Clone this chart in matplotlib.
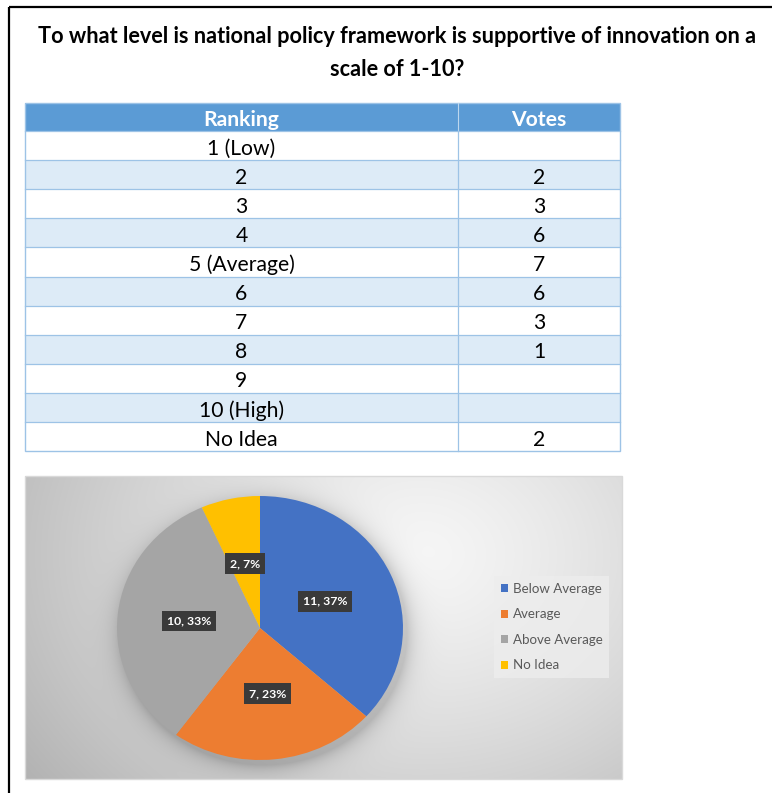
import numpy as np
import matplotlib
matplotlib.use('Agg')
import matplotlib.pyplot as plt
from matplotlib.patches import Rectangle

plt.rcParams['font.family'] = ['Lato', 'DejaVu Sans']

title = 'To what level is national policy framework is supportive of innovation on a\nscale of 1-10?'

rankings = ['1 (Low)', '2', '3', '4', '5 (Average)', '6', '7', '8', '9', '10 (High)', 'No Idea']
votes = [0, 2, 3, 6, 7, 6, 3, 1, 0, 0, 2]

categories = ['Below Average', 'Average', 'Above Average', 'No Idea']
# which ranking rows fall into each pie category
category_rows = [[0, 1, 2, 3], [4], [5, 6, 7, 8, 9], [10]]
category_colors = ['#4472C4', '#ED7D31', '#A5A5A5', '#FFC000']

category_votes = [sum(votes[i] for i in rows) for rows in category_rows]

W, H = 772, 793
fig = plt.figure(figsize=(W / 100, H / 100), dpi=100)
fig.patch.set_facecolor('white')

# page canvas in pixel coordinates
base = fig.add_axes([0, 0, 1, 1])
base.set_xlim(0, W)
base.set_ylim(H, 0)
base.axis('off')

# page border (left and top)
base.plot([9, 9], [7, H], color='black', lw=1.6, solid_capstyle='butt')
base.plot([9, W], [7, 7], color='black', lw=1.6, solid_capstyle='butt')

base.text(397, 53, title, ha='center', va='center', fontsize=15.6,
          fontweight='bold', color='black', linespacing=1.68)

# table
tx0, tx1, tsplit = 25, 620, 458
ty0, head_h, row_h = 103, 28, 29.1
edge = '#9DC3E6'
fs = 15.2
base.add_patch(Rectangle((tx0, ty0), tx1 - tx0, head_h, fc='#5B9BD5', ec='none'))
base.plot([tsplit, tsplit], [ty0, ty0 + head_h], color='#BDD7EE', lw=0.8)
base.text((tx0 + tsplit) / 2, ty0 + head_h - 5.5, 'Ranking', ha='center', va='baseline',
          fontsize=fs, fontweight='bold', color='white')
base.text((tsplit + tx1) / 2, ty0 + head_h - 5.5, 'Votes', ha='center', va='baseline',
          fontsize=fs, fontweight='bold', color='white')

for i, (rank, v) in enumerate(zip(rankings, votes)):
    y = ty0 + head_h + i * row_h
    fc = 'white' if i % 2 == 0 else '#DDEBF7'
    base.add_patch(Rectangle((tx0, y), tx1 - tx0, row_h, fc=fc, ec='none'))
    base.plot([tx0, tx1], [y, y], color=edge, lw=0.9)
    base.text((tx0 + tsplit) / 2, y + row_h - 5.5, rank, ha='center', va='baseline',
              fontsize=fs, color='black')
    if v:
        base.text((tsplit + tx1) / 2, y + row_h - 5.5, str(v), ha='center', va='baseline',
                  fontsize=fs, color='black')

ty1 = ty0 + head_h + len(rankings) * row_h
base.plot([tsplit, tsplit], [ty0 + head_h, ty1], color=edge, lw=0.9)
base.add_patch(Rectangle((tx0, ty0), tx1 - tx0, ty1 - ty0, fc='none', ec=edge, lw=1.0))

# chart panel with radial gradient and a soft shadow under the pie
px0, px1, py0, py1 = 25, 622, 476, 779
cx, cy, rx, ry = 260, 628, 143, 132
xs = np.arange(px0, px1) + 0.5
ys = np.arange(py0, py1) + 0.5
X, Y = np.meshgrid(xs, ys)
g = np.sqrt(((X - 420) / 420) ** 2 + ((Y - 555) / 330) ** 2)
shade = 0.965 - 0.22 * np.clip(g, 0, 1.2) ** 1.3
d = np.sqrt(((X - cx - 4) / rx) ** 2 + ((Y - cy - 5) / ry) ** 2)
shadow = np.where(d > 1, 0.16 * np.exp(-(d - 1) / 0.07), 0.16)
shade = shade - shadow
img = np.dstack([shade, shade, shade])
base.imshow(img, extent=(px0, px1, py1, py0), interpolation='bilinear', zorder=1)
base.add_patch(Rectangle((px0, py0), px1 - px0, py1 - py0, fc='none', ec='#D9D9D9', lw=1.0, zorder=2))

# pie
ax = fig.add_axes([(cx - rx) / W, (H - cy - ry) / H, 2 * rx / W, 2 * ry / H])
total = sum(category_votes)


def fmt(pct):
    n = int(round(pct * total / 100))
    return f'{n}, {pct:.0f}%'


wedges, _, autotexts = ax.pie(category_votes, colors=category_colors, startangle=90,
                              counterclock=False, autopct=fmt, pctdistance=0.5,
                              wedgeprops=dict(linewidth=0))
ax.set_aspect('auto')
ax.set_xlim(-1, 1)
ax.set_ylim(-1, 1)
ax.axis('off')
for t in autotexts:
    t.set_color('white')
    t.set_fontweight('bold')
    t.set_fontsize(8.8)
    t.set_bbox(dict(boxstyle='square,pad=0.4', fc='#3A3A3A', ec='none'))

leg = fig.legend(wedges, categories, loc='upper left',
                 bbox_to_anchor=(494 / W, 1 - 576 / H), frameon=True,
                 fontsize=9.6, handlelength=0.55, handleheight=0.55, handletextpad=0.35,
                 labelspacing=1.02, borderpad=0.5, borderaxespad=0, fancybox=False)
leg.get_frame().set_facecolor('#EDEDED')
leg.get_frame().set_edgecolor('none')
leg.get_frame().set_alpha(0.8)
for t in leg.get_texts():
    t.set_color('#595959')

fig.savefig('out.png', dpi=100)
